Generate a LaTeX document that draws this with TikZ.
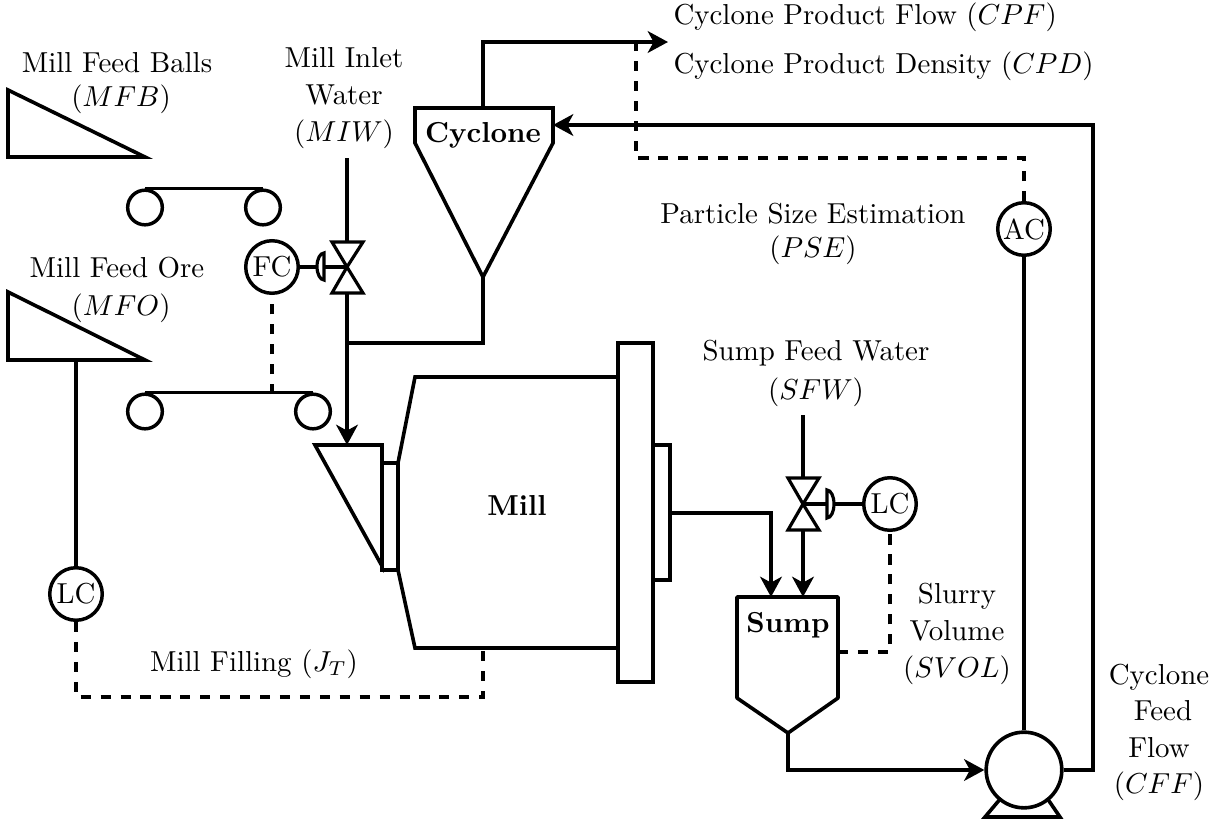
\documentclass[tikz,border=0pt]{standalone}
\usetikzlibrary{arrows.meta}
\tikzset{
 x=0.3463pt,y=-0.3463pt,
 pipe/.style={line width=1.25pt,line join=miter},
 thin pipe/.style={line width=1.1pt},
 flow/.style={pipe,-{Stealth[length=7pt,width=7.5pt,inset=2pt]}},
 signal/.style={line width=1.15pt,dash pattern=on 3.5pt off 3.4pt},
 ctrl/.style={circle,draw,line width=1.2pt,minimum size=18.2pt,inner sep=0pt,fill=white},
 lab/.style={align=center,inner sep=0pt},
 roller/.style={circle,draw,line width=1.2pt,minimum size=12pt,inner sep=0pt},
 hidden/.style={inner sep=0pt,minimum size=0pt},
}
\begin{document}
\begin{tikzpicture}
\useasboundingbox (0,0) rectangle (1222,823);
% hoppers
\draw[pipe] (8,90) -- (8,157) -- (145,157) -- cycle;
\draw[pipe] (8,292) -- (8,360) -- (145,360) -- cycle;
% conveyors
\node[roller] (r1) at (145,207.5) {};
\node[roller] (r2) at (263,207.5) {};
\node[roller] (r3) at (145,411.5) {};
\node[roller] (r4) at (313,411.5) {};
\draw[thin pipe] (r1.north) -- (r2.north);
\draw[thin pipe] (r3.north) -- (r4.north);
% controllers
\node[ctrl] (fc) at (272,267) {FC};
\node[ctrl] (lc2) at (890,504) {LC};
\node[ctrl] (lc1) at (76,594) {LC};
\node[ctrl] (ac) at (1024,229) {AC};
% valve 1
\coordinate (v1) at (347,267);
\draw[thin pipe,line join=miter] (v1) -- (332,242) -- (363,242) -- cycle;
\draw[thin pipe,line join=miter] (v1) -- (332,293) -- (363,293) -- cycle;
\draw[thin pipe] (fc) -- (v1);
\draw[thin pipe,fill=white] (324,253) arc[start angle=90,end angle=270,x radius=7,y radius=-13.5] -- cycle;
% valve 2
\coordinate (v2) at (803,504);
\draw[thin pipe] (v2) -- (788,478) -- (819,478) -- cycle;
\draw[thin pipe] (v2) -- (788,530) -- (819,530) -- cycle;
\draw[thin pipe] (lc2) -- (v2);
\draw[thin pipe,fill=white] (827,490) arc[start angle=90,end angle=-90,x radius=7,y radius=-14] -- cycle;
% cyclone
\draw[pipe] (415,143) -- (415,108) -- (553,108) -- (553,143) -- (483,277) -- cycle;
\node[hidden] (cy) at (483,135) {\textbf{Cyclone}};
% mill
\draw[pipe] (315,445) -- (382,445) -- (382,566) -- cycle;
\draw[pipe] (382,463) rectangle (398,570);
\draw[pipe] (398,463) -- (415,377) -- (618,377);
\draw[pipe] (398,570) -- (415,648) -- (618,648);
\draw[pipe] (618,343) rectangle (653,682);
\draw[pipe] (653,445) rectangle (670,580);
\node[hidden] (mill) at (517,505) {\textbf{Mill}};
% sump
\draw[pipe,line join=round] (737,597) -- (838,597) -- (838,698) -- (788,733) -- (737,698) -- cycle;
\node[hidden] (sump) at (788,625) {\textbf{Sump}};
% pump
\node[circle,draw,line width=1.25pt,minimum size=26.2pt,inner sep=0pt] (pump) at (1024,770) {};
\draw[pipe] (1001,798) -- (985,817) -- (1060,817) -- (1047,798);
% process lines
\coordinate (miw) at (347,158);
\coordinate (cyo) at (483,108);
\coordinate (cyt) at (483,277);
\coordinate (out) at (668,42);
\coordinate (sfw) at (803,415);
\draw[thin pipe] (miw) -- (347,242);
\draw[flow] (347,293) -- (347,445);
\draw[thin pipe] (347,343) -- (483,343) -- (cyt);
\draw[flow] (cyo) -- (483,42) -- (out);
\draw[thin pipe] (sfw) -- (803,478);
\draw[flow] (803,530) -- (803,597);
\draw[flow] (670,513) -- (771,513) -- (771,597);
\draw[flow] (788,733) -- (788,770) -- (pump.west);
\draw[pipe] (pump.north) -- (ac.south);
\draw[flow] (pump.east) -- (1093,770) -- (1093,125) -- (553,125);
\draw[pipe] (76,360) -- (lc1.north);
% signals
\draw[signal] (272,394) -- (fc.south);
\draw[signal] (838,652) -- (890,652) -- (lc2.south);
\draw[signal] (ac.north) -- (1024,158) -- (636,158) -- (636,42);
\draw[signal] (lc1.south) -- (76,697) -- (483,697) -- (483,648);
% labels
\node[lab] (t1) at (117,83) {Mill Feed Balls\\\hspace*{2.8pt}($MFB$)};
\node[lab] (t2) at (117,290) {Mill Feed Ore\\[1.2pt]\hspace*{2.8pt}($MFO$)};
\node[lab] (t3) at (344,98.5) {Mill Inlet\\[0.8pt]Water\\[0.8pt]($MIW$)};
\node[lab,anchor=west] (t4) at (673,17.5) {Cyclone Product Flow ($CPF$)};
\node[lab,anchor=west] (t5) at (673,66.5) {Cyclone Product Density ($CPD$)};
\node[lab] (t6) at (813,234) {Particle Size Estimation\\($PSE$)};
\node[lab] (t7) at (816,373) {Sump Feed Water\\[1.5pt]($SFW$)};
\node[lab] (t8) at (957,633.5) {Slurry\\[0.8pt]Volume\\[0.8pt]($SVOL$)};
\node[lab] (t9) at (254,664) {Mill Filling ($J_T$)};
\node[lab] (t10) at (1159,732.5) {Cyclone\\[0.6pt]\hspace*{2.8pt}Feed\\[0.6pt]Flow\hspace*{4.2pt}\\[0.6pt]($CFF$)};
\end{tikzpicture}
\end{document}
